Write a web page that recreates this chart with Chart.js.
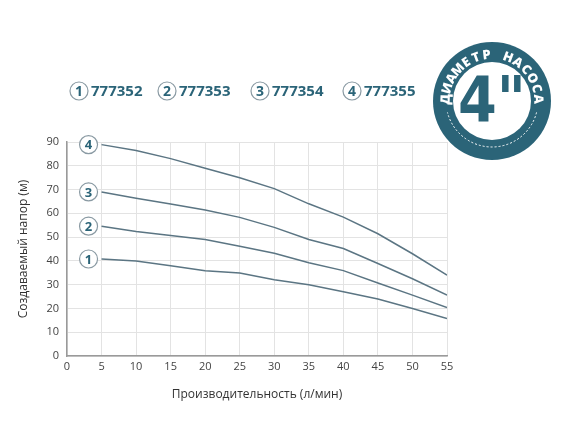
<!DOCTYPE html><html><head><meta charset="utf-8"><script src="https://cdn.jsdelivr.net/npm/chart.js@4"></script>
<style>body{margin:0;background:#fff}#w{width:570px;height:444px}</style></head><body><div id="w"><canvas id="c"></canvas></div>
<script>
const flows=[5,10,15,20,25,30,35,40,45,50,55];
const s1=[40.8,40,38,35.9,34.9,32.1,30,27,24,20,15.8];
const s2=[54.6,52.4,50.7,49,46.2,43.2,39.2,35.9,30.7,25.6,20.4];
const s3=[69,66.3,63.9,61.4,58.3,54.1,49,45.2,38.9,32.5,25.6];
const s4=[88.9,86.4,83,79,75,70.4,64,58.4,51.4,43,34];
const models=['777352','777353','777354','777355'];
const xTitle='Производительность (л/мин)', yTitle='Создаваемый напор (м)';
const teal='#2b6478', lineC='#5b7583';
const series=[s1,s2,s3,s4];
const deco={id:'deco',afterDraw(ch){const c=ch.ctx;c.save();
 series.forEach((s,i)=>{const m=ch.getDatasetMeta(i).data[0];const x=m.x-13,y=m.y;
  c.beginPath();c.arc(x,y,9,0,Math.PI*2);c.fillStyle='#fff';c.fill();c.strokeStyle='#8a9aa3';c.lineWidth=1.2;c.stroke();
  c.fillStyle=teal;c.font='bold 13px "Open Sans"';c.textAlign='center';c.textBaseline='middle';c.fillText(String(i+1),x,y+1);});
 const lx=[79,167,260,352];
 models.forEach((m,i)=>{const x=lx[i],y=91;c.beginPath();c.arc(x,y,9,0,Math.PI*2);c.strokeStyle='#8a9aa3';c.lineWidth=1.2;c.stroke();
  c.fillStyle=teal;c.font='bold 14px "Open Sans"';c.textAlign='center';c.textBaseline='middle';c.fillText(String(i+1),x,y+1);
  c.textAlign='left';c.font='bold 15px "Open Sans"';c.fillText(m,x+12,y+1);});
 const cx=492,cy=101;c.beginPath();c.arc(cx,cy,59,0,Math.PI*2);c.fillStyle=teal;c.fill();
 c.beginPath();c.arc(cx,cy,39,0,Math.PI*2);c.fillStyle='#fff';c.fill();
 c.beginPath();c.setLineDash([2,2]);c.arc(cx,cy,46,0.08*Math.PI,0.92*Math.PI);c.strokeStyle='#fff';c.lineWidth=1;c.stroke();c.setLineDash([]);
 c.fillStyle=teal;c.font='bold 62px "Liberation Sans Narrow","DejaVu Sans Condensed"';c.textAlign='center';c.textBaseline='middle';c.fillText('4"',cx,cy+4);
 const t='ДИАМЕТР НАСОСА';c.font='900 13px "Open Sans"';c.fillStyle='#fff';
 const r=46,span=Math.PI*1.05;const st=-Math.PI/2-span/2;
 for(let k=0;k<t.length;k++){const a=st+span*(k+0.5)/t.length;c.save();c.translate(cx+r*Math.cos(a),cy+r*Math.sin(a));c.rotate(a+Math.PI/2);c.fillText(t[k],0,0);c.restore();}
 c.restore();}};
new Chart(document.getElementById('c'),{type:'line',
 data:{labels:flows,datasets:series.map(s=>({data:s.map((v,i)=>({x:flows[i],y:v})),borderColor:lineC,borderWidth:1.5,pointRadius:0,tension:0,fill:false}))},
 options:{responsive:true,maintainAspectRatio:false,animation:false,
  layout:{padding:{top:142,right:123,left:12,bottom:38}},
  plugins:{legend:{display:false},tooltip:{enabled:false}},
  scales:{x:{type:'linear',min:0,max:55,afterFit(a){a.height=50},ticks:{stepSize:5,color:'#444',font:{size:11,family:'"Open Sans"'},padding:4},
    grid:{color:'#e3e3e3',drawTicks:false},border:{color:'#9a9a9a',width:1.5},
    title:{display:true,text:xTitle,color:'#333',font:{size:12,family:'"Open Sans"'},padding:{top:10}}},
   y:{min:0,max:90,afterFit(a){a.width=55},ticks:{stepSize:10,color:'#444',font:{size:11,family:'"Open Sans"'},padding:8},
    grid:{color:'#e3e3e3',drawTicks:false},border:{color:'#9a9a9a',width:1.5},
    title:{display:true,text:yTitle,color:'#333',font:{size:12,family:'"Open Sans"'},padding:{bottom:4}}}}},
 plugins:[deco]});
</script></body></html>
